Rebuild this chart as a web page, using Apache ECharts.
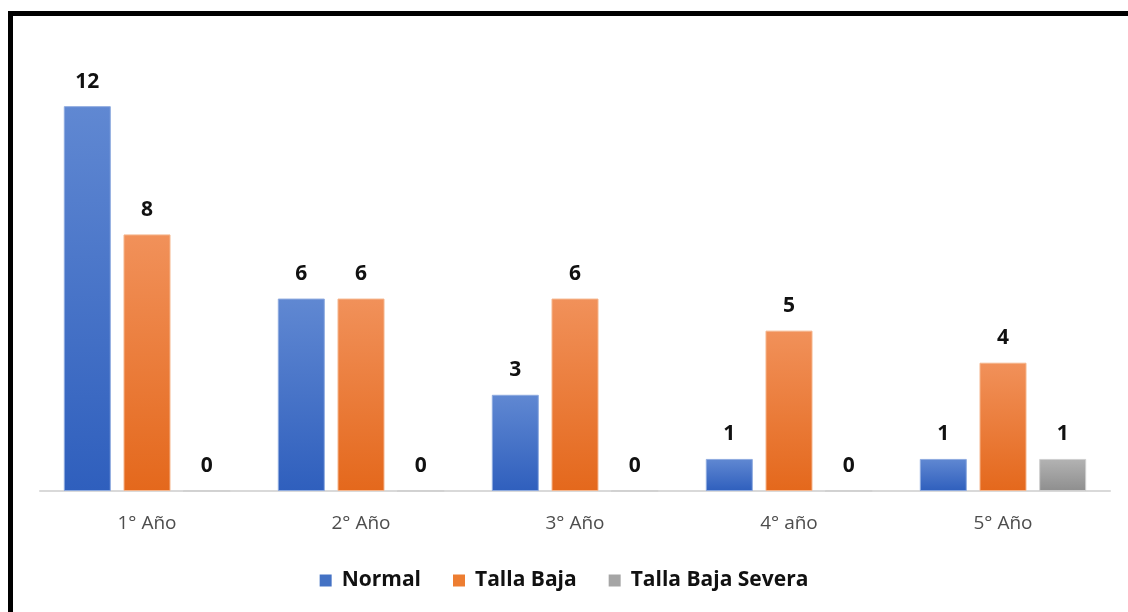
<!DOCTYPE html>
<html>
<head>
<meta charset="utf-8">
<script src="https://cdn.jsdelivr.net/npm/echarts@6/dist/echarts.min.js"></script>
<style>
  html, body { margin: 0; padding: 0; background: #fff; overflow: hidden; }
  #chart { position: absolute; left: 0; top: 0; width: 1128px; height: 612px; }
  #frame { position: absolute; left: 8px; top: 11px; width: 1200px; height: 700px;
           border-top: 5px solid #000; border-left: 5px solid #000; pointer-events: none; }
</style>
</head>
<body>
<div id="chart"></div>
<div id="frame"></div>
<script>
const categories = ['1° Año', '2° Año', '3° Año', '4° año', '5° Año'];
const seriesNames = ['Normal', 'Talla Baja', 'Talla Baja Severa'];
const normal = [12, 6, 3, 1, 1];
const tallaBaja = [8, 6, 6, 5, 4];
const tallaBajaSevera = [0, 0, 0, 0, 1];

const FONT = '"Open Sans", Lato, sans-serif';

function grad(top, bottom) {
  return new echarts.graphic.LinearGradient(0, 0, 0, 1, [
    { offset: 0, color: top },
    { offset: 1, color: bottom }
  ]);
}

const palette = [
  { legend: '#4472c4', top: '#6088d2', bottom: '#2f5fbd', edge: '#8eaadf' },
  { legend: '#ed7d31', top: '#f1915a', bottom: '#e4681c', edge: '#f5b58c' },
  { legend: '#a5a5a5', top: '#b3b3b3', bottom: '#8e8e8e', edge: '#cfcfcf' }
];

function makeSeries(name, data, p) {
  return {
    name: name,
    type: 'bar',
    data: data,
    barWidth: 47,
    barGap: '27%',
    itemStyle: { color: grad(p.top, p.bottom), borderColor: p.edge, borderWidth: 1 },
    label: {
      show: true,
      position: 'top',
      distance: 14,
      fontFamily: FONT,
      fontWeight: 'bold',
      fontSize: 21,
      color: '#111'
    }
  };
}

const chart = echarts.init(document.getElementById('chart'), null, { renderer: 'canvas' });
chart.setOption({
  animation: false,
  backgroundColor: '#fff',
  grid: { left: 40, right: 18, top: 42, bottom: 121, containLabel: false },
  legend: {
    top: 565,
    left: 'center',
    itemWidth: 12,
    itemHeight: 12,
    itemGap: 32,
    icon: 'rect',
    textStyle: { fontFamily: FONT, fontWeight: 'bold', fontSize: 21, color: '#111', padding: [0, 0, 0, 5] },
    data: seriesNames.map(function (n, i) {
      return { name: n, itemStyle: { color: palette[i].legend, borderWidth: 0 } };
    })
  },
  xAxis: {
    type: 'category',
    data: categories,
    axisLine: { lineStyle: { color: '#d9d9d9', width: 2 } },
    axisTick: { show: false },
    axisLabel: { fontFamily: FONT, fontSize: 19, color: '#4d4d4d', margin: 23 }
  },
  yAxis: {
    type: 'value',
    min: 0,
    max: 14,
    show: false,
    splitLine: { show: false }
  },
  series: [
    makeSeries(seriesNames[0], normal, palette[0]),
    makeSeries(seriesNames[1], tallaBaja, palette[1]),
    makeSeries(seriesNames[2], tallaBajaSevera, palette[2])
  ]
});
</script>
</body>
</html>
